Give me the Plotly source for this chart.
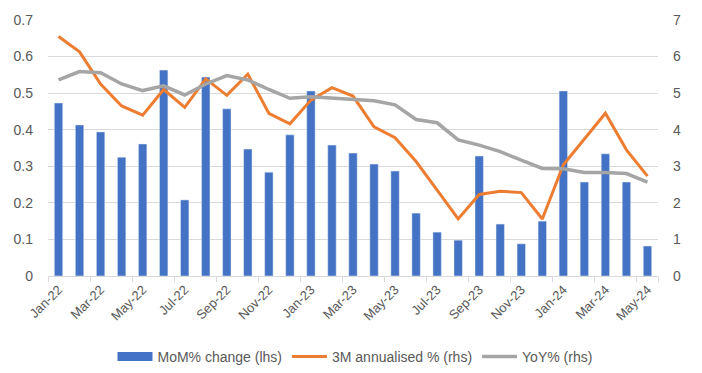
import plotly.graph_objects as go

months = ["Jan-22","Feb-22","Mar-22","Apr-22","May-22","Jun-22","Jul-22","Aug-22","Sep-22","Oct-22","Nov-22","Dec-22",
          "Jan-23","Feb-23","Mar-23","Apr-23","May-23","Jun-23","Jul-23","Aug-23","Sep-23","Oct-23","Nov-23","Dec-23",
          "Jan-24","Feb-24","Mar-24","Apr-24","May-24"]
mom = [0.473,0.413,0.394,0.325,0.361,0.563,0.208,0.544,0.457,0.347,0.284,0.386,
       0.506,0.358,0.336,0.306,0.287,0.172,0.120,0.098,0.328,0.142,0.088,0.150,
       0.506,0.257,0.334,0.257,0.082]
ann3m = [6.55,6.13,5.25,4.65,4.40,5.10,4.61,5.39,4.94,5.52,4.45,4.16,
         4.81,5.15,4.92,4.08,3.78,3.13,2.35,1.56,2.23,2.32,2.28,1.56,
         3.04,3.74,4.45,3.45,2.73]
yoy = [5.36,5.59,5.56,5.25,5.07,5.20,4.95,5.25,5.48,5.36,5.10,4.86,
       4.90,4.86,4.81,4.79,4.68,4.28,4.19,3.72,3.58,3.40,3.17,2.94,
       2.93,2.83,2.83,2.80,2.57]
tick_labels = months[::2]

font = "Liberation Sans"
tc = "#595959"
blue, orange, grey = "#4472C4", "#ED7D31", "#A5A5A5"

fig = go.Figure()
fig.add_trace(go.Bar(x=months, y=mom, name="MoM% change (lhs)", marker_color=blue, yaxis="y",
                     showlegend=False, legendgroup="a"))
# legend-only entry to mimic the wide rectangle legend key
fig.add_trace(go.Scatter(x=[None], y=[None], name="MoM% change (lhs)", mode="lines",
                         line=dict(color=blue, width=9), legendgroup="a", yaxis="y"))
fig.add_trace(go.Scatter(x=months, y=ann3m, name="3M annualised % (rhs)", mode="lines",
                         line=dict(color=orange, width=3), yaxis="y2"))
fig.add_trace(go.Scatter(x=months, y=yoy, name="YoY% (rhs)", mode="lines",
                         line=dict(color=grey, width=3.5), yaxis="y2"))

# page body adds an 8px offset, so the figure is sized to fit the 702x373 window
fig.update_layout(
    width=694, height=365,
    margin=dict(l=40, r=44, t=12, b=97),
    paper_bgcolor="white", plot_bgcolor="white",
    bargap=0.6,
    font=dict(family=font, color=tc, size=13),
    showlegend=True,
    legend=dict(orientation="h", x=0.5, xanchor="center", xref="container",
                y=0.044, yanchor="middle", yref="container",
                font=dict(size=14, color=tc), traceorder="normal", itemwidth=35),
    xaxis=dict(type="category", categoryorder="array", categoryarray=months,
               tickmode="array", tickvals=tick_labels, ticktext=tick_labels,
               tickangle=-45, tickson="boundaries", ticks="outside", ticklen=5, tickcolor="#D9D9D9",
               showline=True, linecolor="#D9D9D9", linewidth=1, showgrid=False, automargin=False,
               tickfont=dict(size=13, color=tc)),
    yaxis=dict(range=[0, 0.7], dtick=0.1, tickformat=".1~f", showgrid=True, gridcolor="#D9D9D9",
               zeroline=False, tickfont=dict(size=14, color=tc), ticklabelstandoff=14, automargin=False),
    yaxis2=dict(range=[0, 7], dtick=1, overlaying="y", side="right", showgrid=False, zeroline=False,
                tickfont=dict(size=14, color=tc), ticklabelstandoff=14, automargin=False),
)

fig.write_html("out.html")
